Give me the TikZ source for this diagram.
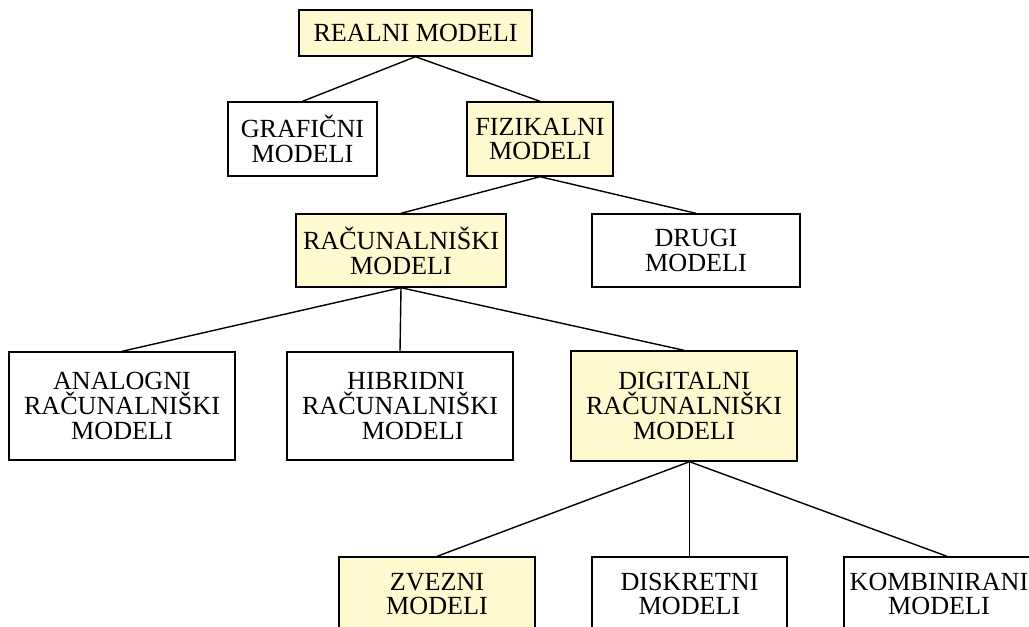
\documentclass[tikz,border=0pt]{standalone}
\usepackage{fontspec}
\setmainfont{Liberation Serif}
\definecolor{boxyellow}{RGB}{255,249,208}
\begin{document}
\begin{tikzpicture}[x=0.75pt,y=-0.75pt,
  box/.style={draw=black, line width=1.05pt, rectangle, inner sep=0pt,
    align=center, font=\fontsize{19.6}{18.6}\selectfont},
  hl/.style={box, fill=boxyellow},
  plain/.style={box, fill=white},
  link/.style={draw=black, line width=1.05pt}]
\useasboundingbox (0,0) rectangle (1029,626);
\begin{scope}
\clip (0,0) rectangle (1029,626);
% level 0
\node[hl, minimum width=174.75pt, minimum height=34.5pt] (real) at (415.5,33) {REALNI MODELI};
% level 1
\node[plain, minimum width=111.75pt, minimum height=55.5pt] (graf) at (302.5,139) {GRAFIČNI\\MODELI};
\node[hl, minimum width=109.5pt, minimum height=55.5pt] (fiz) at (540,139) {FIZIKALNI\\MODELI};
% level 2
\node[hl, minimum width=157.5pt, minimum height=54.75pt] (rac) at (401,250.5) {RAČUNALNIŠKI\\MODELI};
\node[plain, minimum width=156pt, minimum height=54.75pt] (drugi) at (696,250.5) {DRUGI\\MODELI};
% level 3
\node[plain, minimum width=169.5pt, minimum height=81pt] (ana) at (122,406) {ANALOGNI\\RAČUNALNIŠKI\\MODELI};
\node[plain, minimum width=169.5pt, minimum height=81pt] (hib) at (400,406) {\hspace*{9pt}HIBRIDNI\\RAČUNALNIŠKI\\\hspace*{19pt}MODELI};
\node[hl, minimum width=169.5pt, minimum height=82.5pt] (dig) at (684,406) {DIGITALNI\\RAČUNALNIŠKI\\MODELI};
% level 4
\node[hl, minimum width=147pt, minimum height=55.5pt] (zv) at (437,594) {ZVEZNI\\MODELI};
\node[plain, minimum width=146.25pt, minimum height=55.5pt] (disk) at (689.5,594) {DISKRETNI\\MODELI};
\node[plain, minimum width=154.5pt, minimum height=55.5pt] (komb) at (947,594) {KOMBINIRANI\hspace*{12pt}\\MODELI\hspace*{12pt}};
\end{scope}
\coordinate (dapex) at (dig.south -| disk.north);
% connectors
\draw[link] (real.south) -- (graf.north);
\draw[link] (real.south) -- (fiz.north);
\draw[link] (fiz.south) -- (rac.north);
\draw[link] (fiz.south) -- (drugi.north);
\draw[link] (rac.south) -- (ana.north);
\draw[link] (rac.south) -- (hib.north);
\draw[link] (rac.south) -- (dig.north);
\draw[link] (dapex) -- (zv.north);
\draw[link] (dapex) -- (disk.north);
\draw[link] (dapex) -- (komb.north);
\end{tikzpicture}
\end{document}
